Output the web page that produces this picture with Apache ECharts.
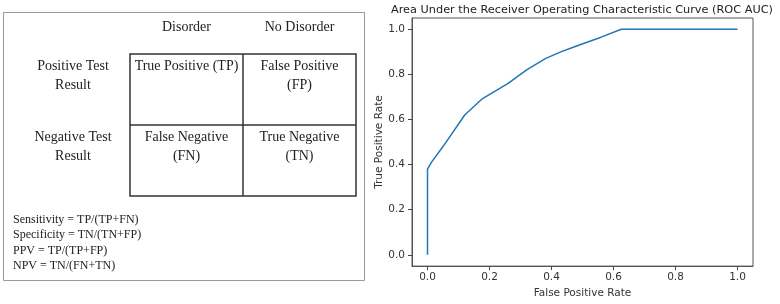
<!DOCTYPE html>
<html>
<head>
<meta charset="utf-8">
<script src="https://cdn.jsdelivr.net/npm/echarts@6/dist/echarts.min.js"></script>
<style>
  html, body { margin: 0; padding: 0; background: #fff; }
  #chart { width: 780px; height: 304px; }
</style>
</head>
<body>
<div id="chart"></div>
<script>
// ROC curve points
var fpr = [0, 0, 0.0125, 0.05, 0.12, 0.175, 0.26, 0.32, 0.38, 0.43, 0.47, 0.51, 0.56, 0.625, 1.0];
var tpr = [0, 0.38, 0.41, 0.48, 0.62, 0.69, 0.76, 0.82, 0.87, 0.90, 0.92, 0.94, 0.965, 1.0, 1.0];
var tickValues = [0, 0.2, 0.4, 0.6, 0.8, 1.0];

// confusion matrix texts
var colHeaders = ['Disorder', 'No Disorder'];
var rowHeaders = ['Positive Test\nResult', 'Negative Test\nResult'];
var cellLabels = [
    ['True Positive (TP)', 'False Positive\n(FP)'],
    ['False Negative\n(FN)', 'True Negative\n(TN)']
];
var formulas = [
    'Sensitivity = TP/(TP+FN)',
    'Specificity = TN/(TN+FP)',
    'PPV = TP/(TP+FP)',
    'NPV = TN/(FN+TN)'
];

var serif = '"Liberation Serif", "DejaVu Serif", serif';
var sans = '"DejaVu Sans", sans-serif';

var colX = [130, 243, 356];
var rowY = [54, 125, 196];

var buildDiagram = function () {
    var els = [];
    // outer frame
    els.push({
        type: 'rect',
        shape: { x: 3.5, y: 12.5, width: 361, height: 268 },
        style: { fill: '#fff', stroke: '#9a9a9a', lineWidth: 1 }
    });
    // table grid
    els.push({
        type: 'rect',
        shape: { x: colX[0], y: rowY[0], width: colX[2] - colX[0], height: rowY[2] - rowY[0] },
        style: { fill: 'none', stroke: '#333', lineWidth: 1.5 }
    });
    els.push({
        type: 'line',
        shape: { x1: colX[1], y1: rowY[0], x2: colX[1], y2: rowY[2] },
        style: { stroke: '#333', lineWidth: 1.5 }
    });
    els.push({
        type: 'line',
        shape: { x1: colX[0], y1: rowY[1], x2: colX[2], y2: rowY[1] },
        style: { stroke: '#333', lineWidth: 1.5 }
    });
    var i, j;
    for (i = 0; i < colHeaders.length; i++) {
        els.push({
            type: 'text',
            x: (colX[i] + colX[i + 1]) / 2, y: 27,
            style: { text: colHeaders[i], font: '14px ' + serif, fill: '#222', align: 'center', verticalAlign: 'middle' }
        });
    }
    for (i = 0; i < rowHeaders.length; i++) {
        els.push({
            type: 'text',
            x: 73, y: rowY[i] + 3,
            style: { text: rowHeaders[i], font: '14px ' + serif, fill: '#222', align: 'center', verticalAlign: 'top', lineHeight: 19 }
        });
        for (j = 0; j < 2; j++) {
            els.push({
                type: 'text',
                x: (colX[j] + colX[j + 1]) / 2, y: rowY[i] + 3,
                style: { text: cellLabels[i][j], font: '14px ' + serif, fill: '#222', align: 'center', verticalAlign: 'top', lineHeight: 19 }
            });
        }
    }
    els.push({
        type: 'text',
        x: 13, y: 212,
        style: { text: formulas.join('\n'), font: '12px ' + serif, fill: '#222', align: 'left', verticalAlign: 'top', lineHeight: 15.5 }
    });
    // plot title, centred over the plot area
    els.push({
        type: 'text',
        x: 582, y: 10,
        style: {
            text: 'Area Under the Receiver Operating Characteristic Curve (ROC AUC)',
            font: '11.3px ' + sans, fill: '#222', align: 'center', verticalAlign: 'middle'
        }
    });
    return els;
};

var chart = echarts.init(document.getElementById('chart'));
var option = {
    animation: false,
    backgroundColor: '#fff',
    graphic: buildDiagram(),
    grid: {
        left: 412, right: 27, top: 18, bottom: 31,
        show: true, borderColor: '#555', borderWidth: 1
    },
    xAxis: {
        type: 'value',
        min: -0.05, max: 1.05,
        name: 'False Positive Rate',
        nameLocation: 'middle',
        nameGap: 18,
        nameTextStyle: { fontFamily: sans, fontSize: 10.5, color: '#333' },
        axisLine: { show: true, onZero: false, lineStyle: { color: '#555', width: 1 } },
        splitLine: { show: false },
        axisTick: { show: true, inside: false, length: 4, lineStyle: { color: '#444', width: 1 }, customValues: tickValues },
        axisLabel: {
            margin: 6, fontFamily: sans, fontSize: 10.5, color: '#333',
            customValues: tickValues,
            formatter: function (v) { return v.toFixed(1); }
        }
    },
    yAxis: {
        type: 'value',
        min: -0.05, max: 1.05,
        name: 'True Positive Rate',
        nameLocation: 'middle',
        nameGap: 26,
        nameTextStyle: { fontFamily: sans, fontSize: 10.5, color: '#333' },
        axisLine: { show: true, onZero: false, lineStyle: { color: '#555', width: 1 } },
        splitLine: { show: false },
        axisTick: { show: true, inside: false, length: 4, lineStyle: { color: '#444', width: 1 }, customValues: tickValues },
        axisLabel: {
            margin: 7, fontFamily: sans, fontSize: 10.5, color: '#333',
            customValues: tickValues,
            formatter: function (v) { return v.toFixed(1); }
        }
    },
    series: [{
        type: 'line',
        data: fpr.map(function (x, k) { return [x, tpr[k]]; }),
        showSymbol: false,
        lineStyle: { color: '#1f77b4', width: 1.5 }
    }]
};
chart.setOption(option);
</script>
</body>
</html>
